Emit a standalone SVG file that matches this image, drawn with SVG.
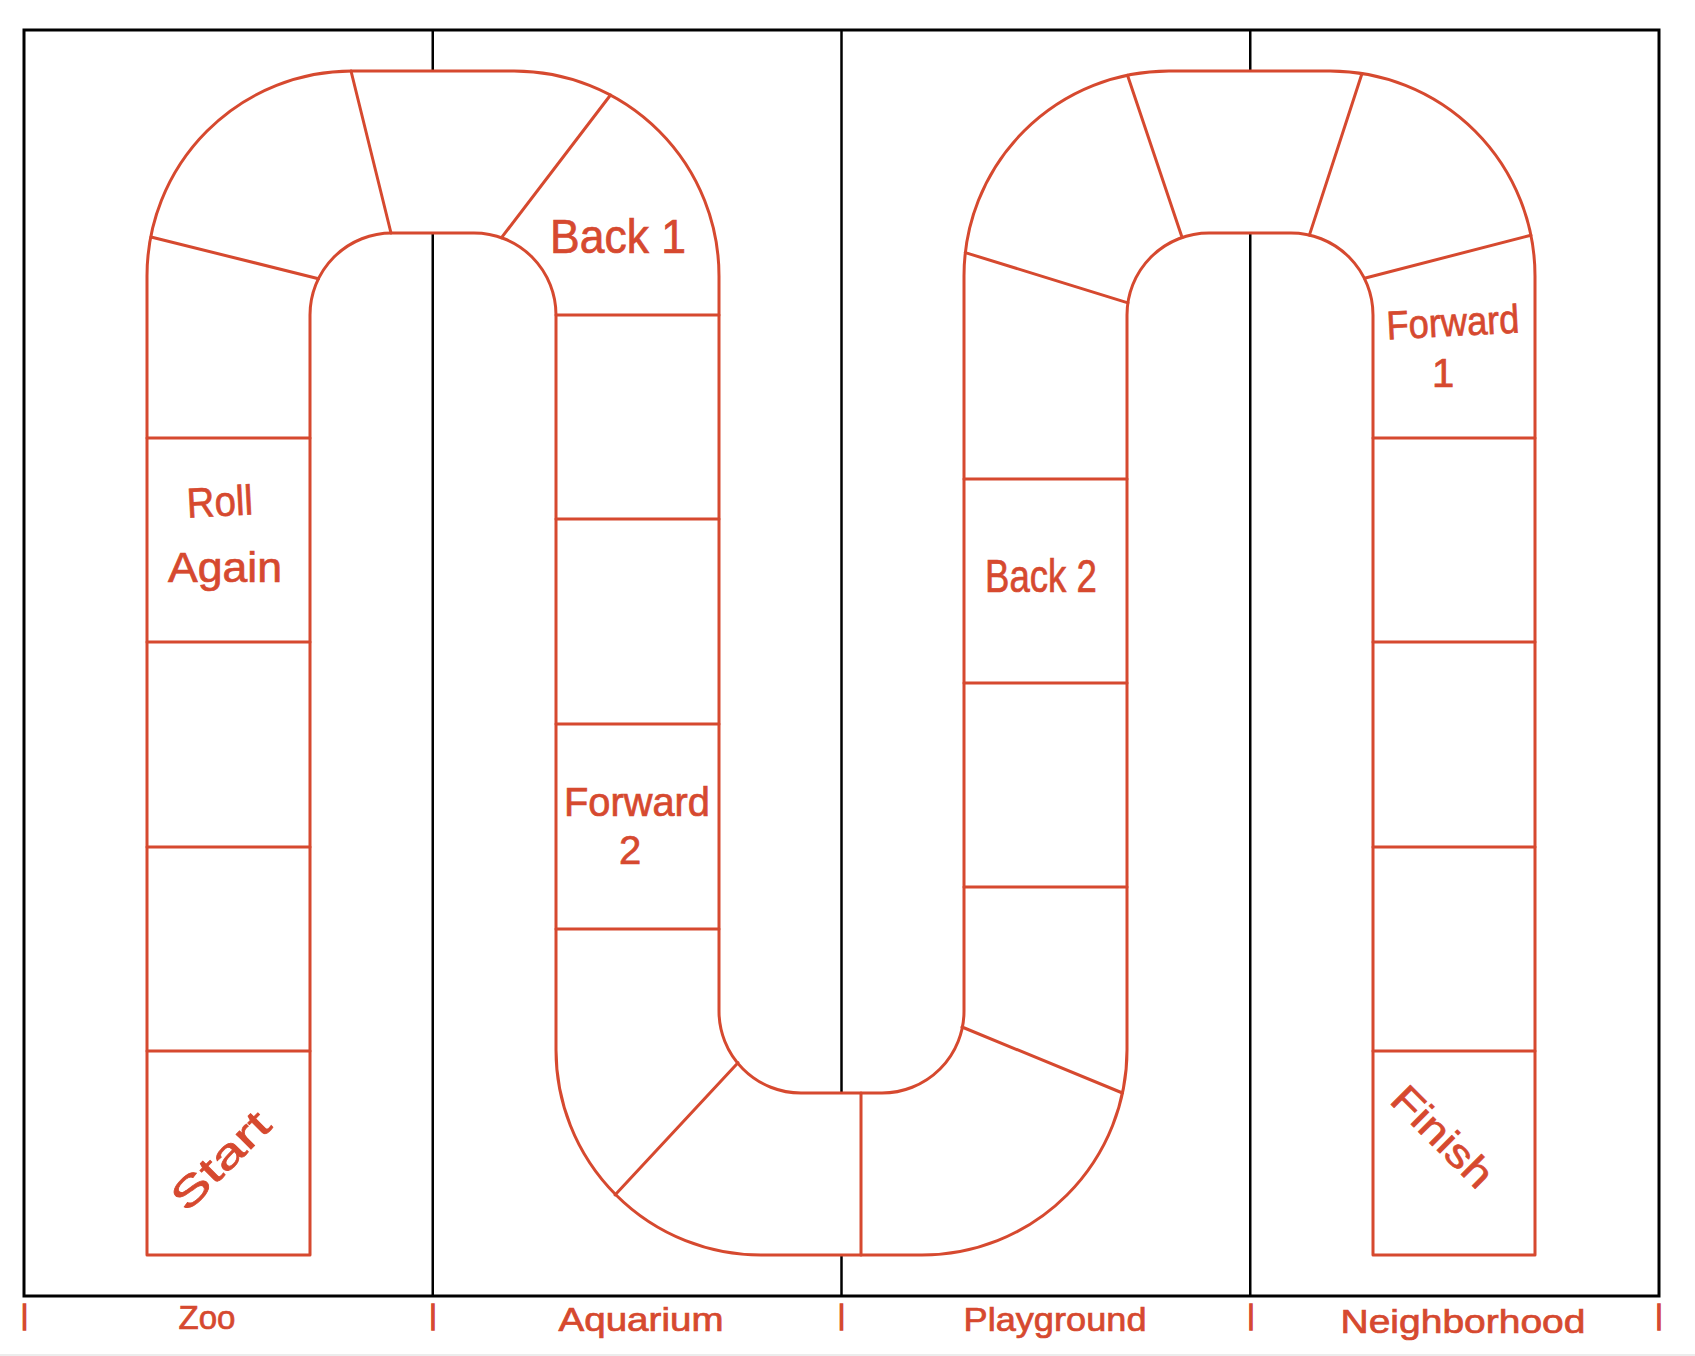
<svg xmlns="http://www.w3.org/2000/svg" width="1695" height="1356" viewBox="0 0 1695 1356">
  <style>
    .frame { fill: none; stroke: #000; stroke-width: 3; }
    .divider { stroke: #000; stroke-width: 2.5; }
    .track { fill: #fff; stroke: #d6492f; stroke-width: 3; stroke-linejoin: round; }
    .cellline { stroke: #d6492f; stroke-width: 3; stroke-linecap: round; }
    .lbl { fill: #d6492f; stroke: #d6492f; stroke-width: 0.7; font-family: "Liberation Sans", Arial, sans-serif; text-anchor: middle; }
    .tick { fill: #d6492f; stroke: #d6492f; stroke-width: 1.4; font-family: "Liberation Sans", Arial, sans-serif; text-anchor: middle; }
  </style>
  <rect x="0" y="0" width="1695" height="1356" fill="#fff"/>
  <rect x="0" y="1354" width="1695" height="2" fill="#ececec"/>

  <g id="frame">
    <line class="divider" x1="432.75" y1="30" x2="432.75" y2="1296"/>
    <line class="divider" x1="841.5" y1="30" x2="841.5" y2="1296"/>
    <line class="divider" x1="1250.25" y1="30" x2="1250.25" y2="1296"/>
    <rect class="frame" x="24" y="30" width="1635" height="1266"/>
  </g>

  <g id="track">
    <path class="track" d="M147,1255 L147,276 A205,205 0 0 1 352,71 L514,71 A205,205 0 0 1 719,276 L719,1011 A82,82 0 0 0 801,1093 L882,1093 A82,82 0 0 0 964,1011 L964,276 A205,205 0 0 1 1169,71 L1330,71 A205,205 0 0 1 1535,276 L1535,1255 L1373,1255 L1373,315 A82,82 0 0 0 1291,233 L1209,233 A82,82 0 0 0 1127,315 L1127,1050 A205,205 0 0 1 922,1255 L761,1255 A205,205 0 0 1 556,1050 L556,315 A82,82 0 0 0 474,233 L392,233 A82,82 0 0 0 310,315 L310,1255 Z"/>
  </g>

  <g id="cell-lines">
    <line class="cellline" x1="147" y1="438" x2="310" y2="438"/>
    <line class="cellline" x1="147" y1="642" x2="310" y2="642"/>
    <line class="cellline" x1="147" y1="847" x2="310" y2="847"/>
    <line class="cellline" x1="147" y1="1051" x2="310" y2="1051"/>
    <line class="cellline" x1="151" y1="237" x2="318.5" y2="278.7"/>
    <line class="cellline" x1="351" y1="71" x2="391" y2="233"/>
    <line class="cellline" x1="610.5" y1="95" x2="501.5" y2="237.7"/>
    <line class="cellline" x1="556" y1="315" x2="719" y2="315"/>
    <line class="cellline" x1="556" y1="519" x2="719" y2="519"/>
    <line class="cellline" x1="556" y1="724" x2="719" y2="724"/>
    <line class="cellline" x1="556" y1="929" x2="719" y2="929"/>
    <line class="cellline" x1="738" y1="1062.7" x2="615" y2="1195"/>
    <line class="cellline" x1="861" y1="1093" x2="861" y2="1255"/>
    <line class="cellline" x1="962" y1="1027" x2="1122.5" y2="1093"/>
    <line class="cellline" x1="964" y1="479" x2="1127" y2="479"/>
    <line class="cellline" x1="964" y1="683" x2="1127" y2="683"/>
    <line class="cellline" x1="964" y1="887" x2="1127" y2="887"/>
    <line class="cellline" x1="965.3" y1="252.6" x2="1127.9" y2="302.9"/>
    <line class="cellline" x1="1127.5" y1="75.3" x2="1182.1" y2="237.5"/>
    <line class="cellline" x1="1362" y1="73.5" x2="1309.4" y2="235.1"/>
    <line class="cellline" x1="1530.9" y1="235.2" x2="1364.5" y2="278.3"/>
    <line class="cellline" x1="1373" y1="438" x2="1535" y2="438"/>
    <line class="cellline" x1="1373" y1="642" x2="1535" y2="642"/>
    <line class="cellline" x1="1373" y1="847" x2="1535" y2="847"/>
    <line class="cellline" x1="1373" y1="1051" x2="1535" y2="1051"/>
  </g>

  <g id="cell-back1">
    <text class="lbl" x="618" y="253" font-size="48" textLength="136" lengthAdjust="spacingAndGlyphs">Back 1</text>
  </g>
  <g id="cell-roll-again">
    <text class="lbl" x="220" y="516" font-size="42" textLength="66" lengthAdjust="spacingAndGlyphs" transform="rotate(-3 220 505)">Roll</text>
    <text class="lbl" x="225" y="582" font-size="42" textLength="114" lengthAdjust="spacingAndGlyphs">Again</text>
  </g>
  <g id="cell-forward2">
    <text class="lbl" x="637" y="816" font-size="40" textLength="146" lengthAdjust="spacingAndGlyphs">Forward</text>
    <text class="lbl" x="630" y="864" font-size="40">2</text>
  </g>
  <g id="cell-back2">
    <text class="lbl" x="1041" y="592" font-size="46" textLength="112" lengthAdjust="spacingAndGlyphs">Back 2</text>
  </g>
  <g id="cell-forward1">
    <text class="lbl" x="1453" y="336" font-size="40" textLength="133" lengthAdjust="spacingAndGlyphs" transform="rotate(-3 1453 325)">Forward</text>
    <text class="lbl" x="1443" y="387" font-size="40">1</text>
  </g>
  <g id="cell-start">
    <text class="lbl" x="0" y="13" font-size="40" textLength="122" lengthAdjust="spacingAndGlyphs" transform="translate(221,1161) rotate(-45)">Start</text>
  </g>
  <g id="cell-finish">
    <text class="lbl" x="0" y="13" font-size="40" textLength="126" lengthAdjust="spacingAndGlyphs" transform="translate(1442,1137) rotate(45)">Finish</text>
  </g>

  <g id="area-labels">
    <text class="tick" x="24.5" y="1324" font-size="27">|</text>
    <text class="tick" x="433" y="1324" font-size="27">|</text>
    <text class="tick" x="841.5" y="1324" font-size="27">|</text>
    <text class="tick" x="1251" y="1324" font-size="27">|</text>
    <text class="tick" x="1659" y="1324" font-size="27">|</text>
    <text class="lbl" x="207" y="1329" font-size="33" textLength="57" lengthAdjust="spacingAndGlyphs">Zoo</text>
    <text class="lbl" x="641" y="1331" font-size="33" textLength="165" lengthAdjust="spacingAndGlyphs">Aquarium</text>
    <text class="lbl" x="1055" y="1331" font-size="33" textLength="183" lengthAdjust="spacingAndGlyphs">Playground</text>
    <text class="lbl" x="1463" y="1333" font-size="33" textLength="245" lengthAdjust="spacingAndGlyphs">Neighborhood</text>
  </g>
</svg>
